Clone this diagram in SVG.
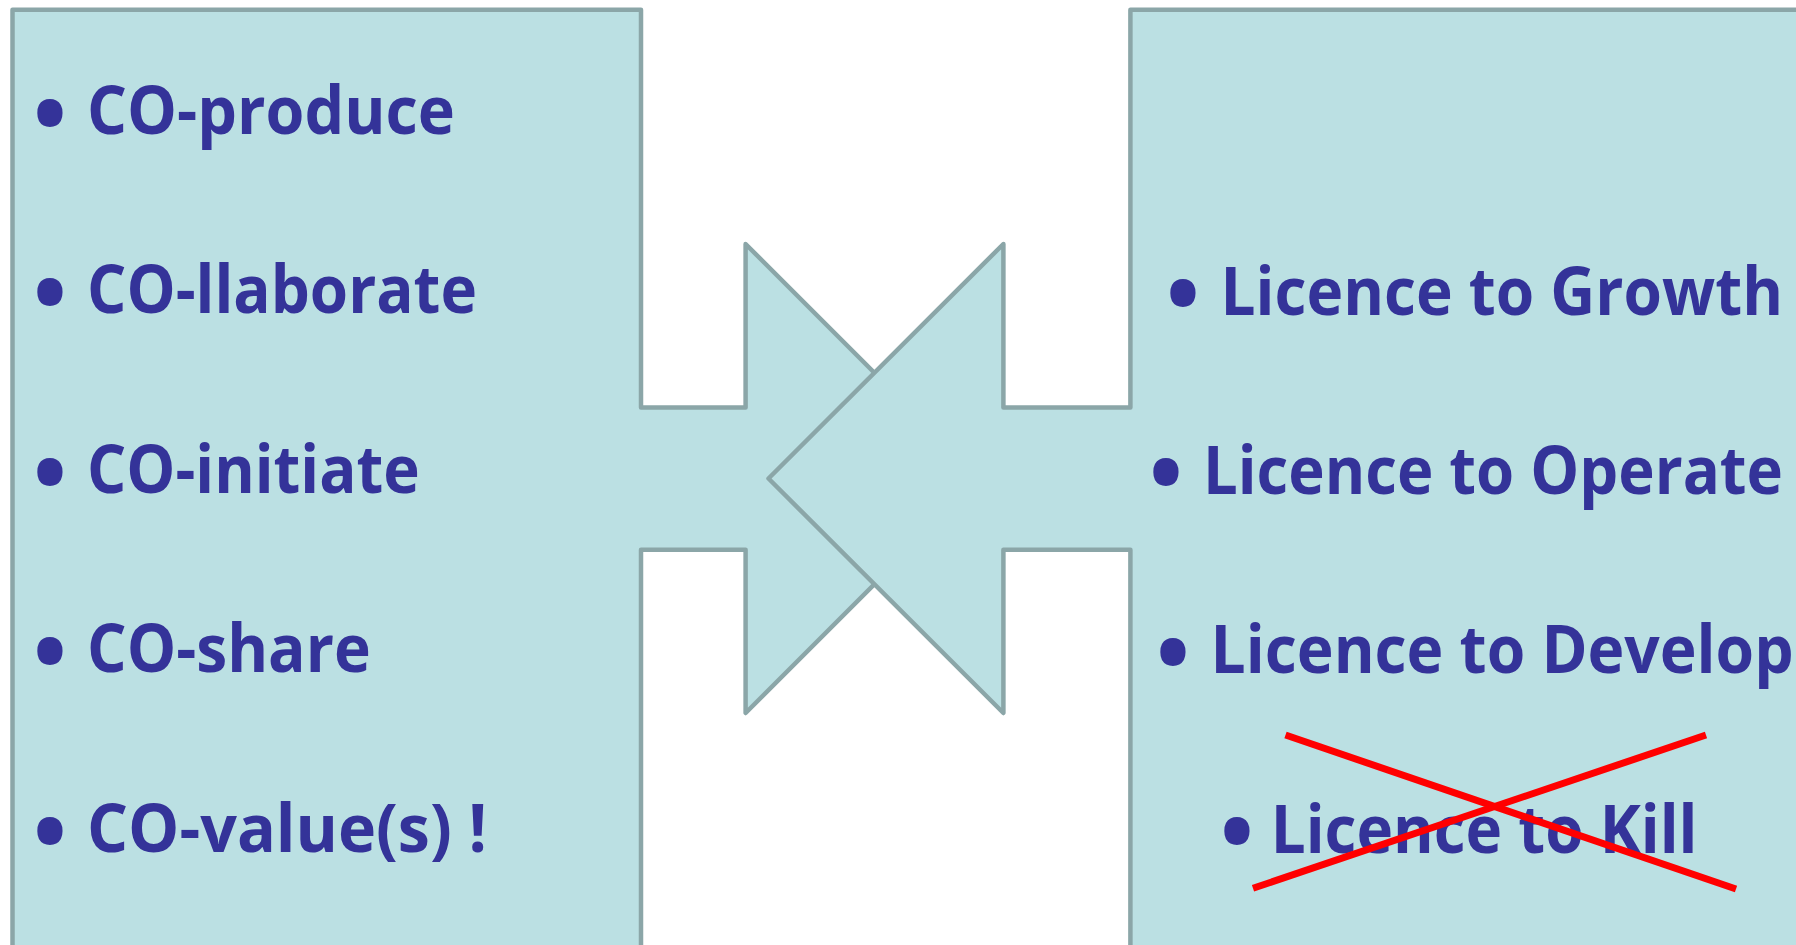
<svg xmlns="http://www.w3.org/2000/svg" width="1796" height="945" viewBox="0 0 1796 945">
  <style>
    .panel { fill: #BBE0E3; stroke: #8BA6A8; stroke-width: 4.5; stroke-linejoin: round; }
    .label { font-family: "Open Sans", "Noto Sans", sans-serif; font-weight: 700; font-size: 66px; fill: #343399; }
    .bullet { font-family: "Open Sans", "Noto Sans", sans-serif; font-weight: 700; font-size: 90px; fill: #343399; text-anchor: middle; }
    .strike { stroke: #FF0000; stroke-width: 7; stroke-linecap: butt; fill: none; }
  </style>
  <rect width="1796" height="945" fill="#FFFFFF"/>
  <g id="left-panel">
    <path class="panel" d="M12.5,965 V9.8 H641 V407.6 H745.6 V244 L980.1,478.5 L745.6,713 V549.8 H641 V965 Z"/>
  </g>
  <g id="right-panel">
    <path class="panel" d="M1815,9.8 H1130.4 V407.6 H1003.4 V244 L768.5,478.5 L1003.4,713 V549.8 H1130.4 V965 H1815 Z"/>
  </g>
  <g id="left-items">
    <g id="co-produce"><text class="bullet" x="50" y="146">•</text><text class="label" x="87" y="134" textLength="368" lengthAdjust="spacingAndGlyphs">CO-produce</text></g>
    <g id="co-llaborate"><text class="bullet" x="50" y="325.4">•</text><text class="label" x="87" y="313.4" textLength="390" lengthAdjust="spacingAndGlyphs">CO-llaborate</text></g>
    <g id="co-initiate"><text class="bullet" x="50" y="504.8">•</text><text class="label" x="87" y="492.8" textLength="332.7" lengthAdjust="spacingAndGlyphs">CO-initiate</text></g>
    <g id="co-share"><text class="bullet" x="50" y="684.2">•</text><text class="label" x="87" y="672.2" textLength="283.7" lengthAdjust="spacingAndGlyphs">CO-share</text></g>
    <g id="co-values"><text class="bullet" x="50" y="863.6">•</text><text class="label" x="87" y="851.6" textLength="400" lengthAdjust="spacingAndGlyphs">CO-value(s) !</text></g>
  </g>
  <g id="right-items">
    <g id="licence-growth"><text class="bullet" x="1183" y="326">•</text><text class="label" x="1220.5" y="314.5" textLength="562.5" lengthAdjust="spacingAndGlyphs">Licence to Growth</text></g>
    <g id="licence-operate"><text class="bullet" x="1166" y="505">•</text><text class="label" x="1203" y="494" textLength="580" lengthAdjust="spacingAndGlyphs">Licence to Operate</text></g>
    <g id="licence-develop"><text class="bullet" x="1173" y="684.5">•</text><text class="label" x="1210.6" y="673.3" textLength="583" lengthAdjust="spacingAndGlyphs">Licence to Develop</text></g>
    <g id="licence-kill"><text class="bullet" x="1237" y="863.5">•</text><text class="label" x="1270.7" y="852.7" textLength="426.8" lengthAdjust="spacingAndGlyphs">Licence to Kill</text></g>
  </g>
  <g id="connectors">
    <line class="strike" x1="1285.5" y1="735" x2="1736" y2="889"/>
    <line class="strike" x1="1253" y1="888.3" x2="1706" y2="735"/>
  </g>
</svg>
